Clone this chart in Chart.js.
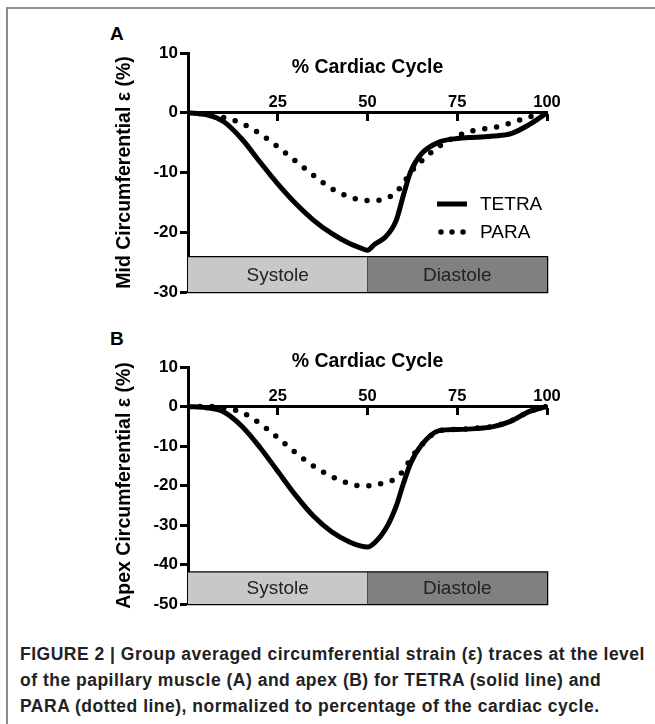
<!DOCTYPE html>
<html>
<head>
<meta charset="utf-8">
<script src="https://cdn.jsdelivr.net/npm/chart.js@4.4.1/dist/chart.umd.min.js"></script>
<style>
  html, body { margin: 0; padding: 0; background: #fff; }
  body { width: 655px; height: 724px; position: relative; overflow: hidden; font-family: "Liberation Sans", Arial, sans-serif; }
  .frame { position: absolute; left: 6px; top: 7px; right: -4px; bottom: -4px; border-left: 2px solid #8c8c8c; border-top: 2px solid #8c8c8c; }
  canvas { position: absolute; left: 0; }
  #mid { top: 0; }
  #apex { top: 310px; }
  .tag { position: absolute; left: 110px; font-weight: bold; font-size: 19px; line-height: 20px; color: #000; }
  .caption { position: absolute; left: 20px; top: 641px; width: 632px; font-weight: bold; font-size: 17.5px; line-height: 26px;
             letter-spacing: 0.5px; color: #222; white-space: nowrap; }
</style>
</head>
<body>
<div class="frame"></div>
<div class="tag" style="top:24px">A</div>
<div class="tag" style="top:329px">B</div>
<canvas id="mid" width="655" height="310"></canvas>
<canvas id="apex" width="655" height="310"></canvas>
<div class="caption">FIGURE 2 | Group averaged circumferential strain (ε) traces at the level<br>of the papillary muscle (A) and apex (B) for TETRA (solid line) and<br>PARA (dotted line), normalized to percentage of the cardiac cycle.</div>

<script>
// DATA

const cyclePct = [0, 5, 10, 15, 20, 25, 30, 35, 40, 45, 48, 50, 52, 55, 58, 60, 62, 65, 70, 75, 80, 85, 90, 95, 100];

const tetraMid = [0, -0.3, -1.5, -4.4, -8.2, -11.9, -15.2, -18.0, -20.2, -21.9, -22.6, -23.0, -22.0, -20.8, -18.0, -13.8, -9.9, -6.9, -4.9, -4.3, -4.1, -3.9, -3.5, -2.0, 0];
const paraMid = [0, -0.3, -0.8, -1.8, -3.5, -5.7, -8.1, -10.5, -12.7, -14.1, -14.6, -14.7, -14.7, -14.4, -13.3, -11.8, -10.0, -8.1, -5.6, -3.9, -2.9, -2.5, -1.7, -0.7, 0];

const tetraApex = [0, -0.3, -1.4, -5.0, -10.3, -16.4, -22.5, -27.8, -31.7, -34.3, -35.3, -35.6, -34.5, -31.1, -25.2, -19.5, -14.4, -9.8, -6.1, -5.8, -5.6, -5.1, -3.7, -1.3, 0];
const paraApex = [0, 0, -0.3, -1.5, -4.3, -7.9, -11.7, -15.1, -17.7, -19.5, -20.1, -20.1, -19.9, -19.2, -18.2, -16.2, -13.3, -9.8, -6.1, -5.8, -5.5, -5.0, -3.6, -1.3, 0];

const xTicks = [25, 50, 75, 100];
const yTicksMid = [10, 0, -10, -20, -30];
const yTicksApex = [10, 0, -10, -20, -30, -40, -50];

const phaseNames = ['Systole', 'Diastole'];
const phaseEdges = [0, 50, 100];
const phaseTopMid = -24.2;
const phaseTopApex = -42;

// HELPERS

Chart.defaults.font.family = '"Liberation Sans", Arial, sans-serif';
Chart.defaults.color = '#000';

const pts = (xs, ys) => xs.map((x, i) => ({x: x, y: ys[i]}));

const phaseFills = ['#c8c8c8', '#808080'];

function phaseDatasets(top, bottom) {
  const sets = phaseNames.map((name, i) => ({
    label: name,
    phase: true,
    data: [{x: phaseEdges[i], y: top}, {x: phaseEdges[i + 1], y: top}],
    showLine: true,
    fill: 'start',
    backgroundColor: phaseFills[i],
    borderColor: 'rgba(0,0,0,0)',
    pointRadius: 0
  }));
  // outline of the two boxes
  const first = phaseEdges[0];
  const last = phaseEdges[phaseEdges.length - 1];
  const outline = [{x: first, y: top}, {x: last, y: top}, {x: last, y: bottom}, {x: first, y: bottom}];
  phaseEdges.slice(1, -1).forEach(e => {
    outline.push({x: e, y: null}, {x: e, y: bottom}, {x: e, y: top});
  });
  sets.push({
    label: 'outline',
    phase: true,
    data: outline,
    showLine: true,
    spanGaps: false,
    borderColor: '#000',
    borderWidth: 2.5,
    pointRadius: 0,
    clip: false
  });
  return sets;
}

function traceDatasets(tetra, para) {
  return [{
    label: 'TETRA',
    data: pts(cyclePct, tetra),
    showLine: true,
    borderColor: '#000',
    borderWidth: 5,
    pointRadius: 0,
    cubicInterpolationMode: 'monotone'
  }, {
    label: 'PARA',
    data: pts(cyclePct, para),
    showLine: true,
    borderColor: '#000',
    borderWidth: 5.5,
    borderDash: [0, 12],
    borderCapStyle: 'round',
    pointRadius: 0,
    cubicInterpolationMode: 'monotone'
  }];
}

// draws Systole / Diastole names inside the boxes
const phaseText = {
  id: 'phaseText',
  afterDatasetsDraw(chart, args, opts) {
    const {ctx, scales: {x, y}} = chart;
    const yMid = y.getPixelForValue((opts.top + y.min) / 2);
    ctx.save();
    ctx.font = '19px "Liberation Sans", Arial, sans-serif';
    ctx.fillStyle = '#222';
    ctx.textAlign = 'center';
    ctx.textBaseline = 'middle';
    phaseNames.forEach((name, i) => {
      const xMid = x.getPixelForValue((phaseEdges[i] + phaseEdges[i + 1]) / 2);
      ctx.fillText(name, xMid, yMid + 1);
    });
    ctx.restore();
  }
};

// small legend inside the plot area
const innerLegend = {
  id: 'innerLegend',
  afterDatasetsDraw(chart, args, opts) {
    if (!opts.show) return;
    const {ctx, chartArea} = chart;
    const items = chart.data.datasets.filter(d => !d.phase);
    ctx.save();
    ctx.font = '19px "Liberation Sans", Arial, sans-serif';
    ctx.textBaseline = 'middle';
    items.forEach((d, i) => {
      const x0 = chartArea.left + opts.x;
      const y0 = chartArea.top + opts.y + i * opts.gap;
      ctx.beginPath();
      ctx.strokeStyle = d.borderColor;
      ctx.lineWidth = d.borderWidth;
      ctx.lineCap = d.borderDash ? 'round' : 'butt';
      ctx.setLineDash(d.borderDash ? [0, 11] : []);
      ctx.moveTo(d.borderDash ? x0 + 4 : x0, y0);
      ctx.lineTo(x0 + 30, y0);
      ctx.stroke();
      ctx.setLineDash([]);
      ctx.fillStyle = '#000';
      ctx.fillText(d.label, x0 + 43, y0 + 1);
    });
    ctx.restore();
  }
};

function panelOptions(yMin, yTicks, yTitle, phaseTop, showLegend, padTop, padBottom) {
  return {
    responsive: false,
    animation: false,
    layout: {
      padding: {left: 100, right: 108, top: padTop, bottom: padBottom}
    },
    plugins: {
      legend: {display: false},
      tooltip: {enabled: false},
      phaseText: {top: phaseTop},
      innerLegend: {show: showLegend, x: 249, y: 151, gap: 28}
    },
    scales: {
      x: {
        type: 'linear',
        min: 0,
        max: 100,
        position: {y: 0},
        afterBuildTicks: (scale) => { scale.ticks = xTicks.map(v => ({value: v})); },
        afterFit: (scale) => { scale.height = 0; },
        grid: {drawOnChartArea: false, drawTicks: true, tickLength: 7, tickWidth: 3, tickColor: '#000'},
        border: {display: true, color: '#000', width: 3},
        ticks: {padding: -27, maxRotation: 0, font: {size: 16.5, weight: 'bold'}},
        title: {display: true, text: '% Cardiac Cycle', font: {size: 19.5, weight: 'bold'}, padding: {top: 0, bottom: 33}}
      },
      y: {
        min: yMin,
        max: 10,
        afterBuildTicks: (scale) => { scale.ticks = yTicks.map(v => ({value: v})); },
        afterFit: (scale) => { scale.width = 88; },
        grid: {drawOnChartArea: false, drawTicks: true, tickLength: 8, tickWidth: 3, tickColor: '#000'},
        border: {display: true, color: '#000', width: 3},
        ticks: {padding: 2, font: {size: 17, weight: 'bold'}},
        title: {display: true, text: yTitle, font: {size: 19.5, weight: 'bold'}, padding: {top: 13, bottom: 0}}
      }
    }
  };
}

// PANEL A

const midChart = new Chart(document.getElementById('mid'), {
  type: 'scatter',
  data: {
    datasets: traceDatasets(tetraMid, paraMid).concat(phaseDatasets(phaseTopMid, yTicksMid[yTicksMid.length - 1]))
  },
  options: panelOptions(-30, yTicksMid, 'Mid Circumferential \u03b5 (%)', phaseTopMid, true, 53, 18),
  plugins: [phaseText, innerLegend]
});

// PANEL B

const apexChart = new Chart(document.getElementById('apex'), {
  type: 'scatter',
  data: {
    datasets: traceDatasets(tetraApex, paraApex).concat(phaseDatasets(phaseTopApex, yTicksApex[yTicksApex.length - 1]))
  },
  options: panelOptions(-50, yTicksApex, 'Apex Circumferential \u03b5 (%)', phaseTopApex, false, 57, 16),
  plugins: [phaseText, innerLegend]
});
</script>
</body>
</html>
